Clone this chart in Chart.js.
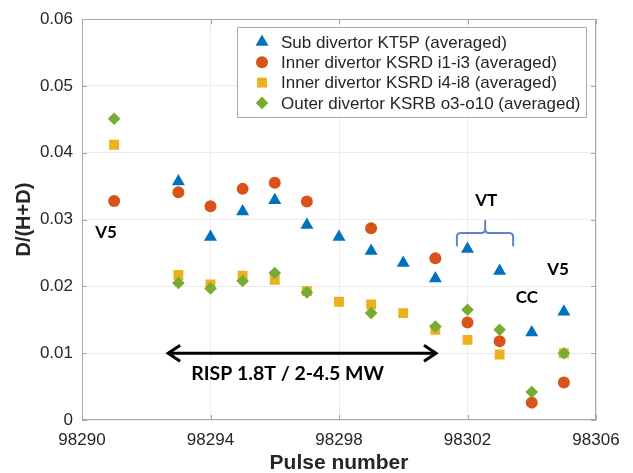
<!DOCTYPE html>
<html><head><meta charset="utf-8">
<script src="https://cdn.jsdelivr.net/npm/chart.js@4"></script>
<style>html,body{margin:0;padding:0;background:#fff;overflow:hidden}#wrap{width:633px;height:473px;position:relative}</style>
</head><body><div id="wrap"><canvas id="c" width="633" height="473"></canvas></div>
<script>
// ---- data ----
const xTickValues = [98290, 98294, 98298, 98302, 98306];
const yTickValues = [0, 0.01, 0.02, 0.03, 0.04, 0.05, 0.06];
const yTickLabels = ['0', '0.01', '0.02', '0.03', '0.04', '0.05', '0.06'];
const seriesNames = [
  'Sub divertor KT5P (averaged)',
  'Inner divertor KSRD i1-i3 (averaged)',
  'Inner divertor KSRD i4-i8 (averaged)',
  'Outer divertor KSRB o3-o10 (averaged)'
];
const subPulses   = [98293, 98294, 98295, 98296, 98297, 98298, 98299, 98300, 98301, 98302, 98303, 98304, 98305];
const subValues   = [0.0357, 0.0274, 0.0312, 0.0329, 0.0292, 0.0274, 0.0253, 0.0235, 0.0212, 0.0256, 0.0223, 0.0131, 0.0162];
const inner13Pulses = [98291, 98293, 98294, 98295, 98296, 98297, 98299, 98301, 98302, 98303, 98304, 98305];
const inner13Values = [0.0328, 0.0341, 0.0320, 0.0346, 0.0355, 0.0327, 0.0287, 0.0242, 0.0146, 0.0118, 0.0026, 0.0056];
const inner48Pulses = [98291, 98293, 98294, 98295, 98296, 98297, 98298, 98299, 98300, 98301, 98302, 98303, 98305];
const inner48Values = [0.0412, 0.0217, 0.0203, 0.0216, 0.0210, 0.0193, 0.0177, 0.0173, 0.0160, 0.0135, 0.0120, 0.0098, 0.0100];
const outerPulses = [98291, 98293, 98294, 98295, 98296, 98297, 98299, 98301, 98302, 98303, 98304, 98305];
const outerValues = [0.0451, 0.0205, 0.0197, 0.0208, 0.0220, 0.0191, 0.0160, 0.0140, 0.0165, 0.0135, 0.0042, 0.0100];

const colors = ['#0072BD', '#D95319', '#EDB120', '#77AC30'];
const styles = ['triangle', 'circle', 'rect', 'rectRot'];
const radii  = [7.5, 6, 7, 6.3];

function pts(xs, ys) { return xs.map((x, i) => ({x: x, y: ys[i]})); }
const seriesData = [
  pts(subPulses, subValues),
  pts(inner13Pulses, inner13Values),
  pts(inner48Pulses, inner48Values),
  pts(outerPulses, outerValues)
];

const AXIS = '#a8a8a8';
const TXT = '#262626';

function drawMarker(ctx, style, r, x, y) {
  ctx.beginPath();
  if (style === 'triangle') {
    for (let k = 0; k < 3; k++) {
      const a = k * 2 * Math.PI / 3;
      const px = x + Math.sin(a) * r, py = y - Math.cos(a) * r;
      k ? ctx.lineTo(px, py) : ctx.moveTo(px, py);
    }
    ctx.closePath();
  } else if (style === 'circle') {
    ctx.arc(x, y, r, 0, Math.PI * 2);
  } else if (style === 'rect') {
    const s = Math.SQRT1_2 * r;
    ctx.rect(x - s, y - s, 2 * s, 2 * s);
  } else {
    ctx.moveTo(x, y - r); ctx.lineTo(x + r, y); ctx.lineTo(x, y + r); ctx.lineTo(x - r, y); ctx.closePath();
  }
  ctx.fill();
}

const framePlugin = {
  id: 'frame',
  beforeDatasetsDraw(chart) {
    const {ctx, chartArea: a, scales} = chart;
    ctx.save();
    ctx.strokeStyle = AXIS; ctx.lineWidth = 1;
    ctx.strokeRect(Math.round(a.left) + 0.5, Math.round(a.top) + 0.5, Math.round(a.right - a.left) - 1, Math.round(a.bottom - a.top) - 1);
    ctx.beginPath();
    const L = 5;
    xTickValues.forEach(v => {
      const x = Math.round(scales.x.getPixelForValue(v)) + 0.5;
      ctx.moveTo(x, a.bottom); ctx.lineTo(x, a.bottom - L);
      ctx.moveTo(x, a.top); ctx.lineTo(x, a.top + L);
    });
    yTickValues.forEach(v => {
      const y = Math.round(scales.y.getPixelForValue(v)) + 0.5;
      ctx.moveTo(a.left, y); ctx.lineTo(a.left + L, y);
      ctx.moveTo(a.right, y); ctx.lineTo(a.right - L, y);
    });
    ctx.stroke();
    ctx.restore();
  }
};

const annotations = {
  arrow: {x: [98292.65, 98301.05], y: 0.01},
  texts: [
    {t: 'RISP 1.8T / 2-4.5 MW', x: 98296.4, y: 0.0070, size: 19.5},
    {t: 'V5', x: 98290.75, y: 0.0280, size: 17},
    {t: 'VT', x: 98302.58, y: 0.0329, size: 17},
    {t: 'V5', x: 98304.82, y: 0.0226, size: 17},
    {t: 'CC', x: 98303.85, y: 0.0183, size: 17}
  ],
  bracket: {x: [98301.67, 98302.55, 98303.42], y: [0.0260, 0.0280, 0.0299]}
};

const annotPlugin = {
  id: 'annot',
  afterDatasetsDraw(chart) {
    const {ctx, scales} = chart;
    const X = v => scales.x.getPixelForValue(v), Y = v => scales.y.getPixelForValue(v);
    ctx.save();
    // arrow
    const ay = Y(annotations.arrow.y), x1 = X(annotations.arrow.x[0]), x2 = X(annotations.arrow.x[1]);
    ctx.strokeStyle = '#000'; ctx.lineWidth = 3; ctx.lineJoin = 'miter'; ctx.lineCap = 'butt';
    ctx.beginPath(); ctx.moveTo(x1 + 1, ay); ctx.lineTo(x2 - 1, ay); ctx.stroke();
    ctx.beginPath();
    ctx.moveTo(x1 + 13, ay - 8); ctx.lineTo(x1 + 1, ay); ctx.lineTo(x1 + 13, ay + 8);
    ctx.moveTo(x2 - 13, ay - 8); ctx.lineTo(x2 - 1, ay); ctx.lineTo(x2 - 13, ay + 8);
    ctx.stroke();
    // bracket
    const b = annotations.bracket;
    const xl = X(b.x[0]), xc = X(b.x[1]), xr = X(b.x[2]);
    const yE = Y(b.y[0]), yB = Y(b.y[1]), yT = Y(b.y[2]);
    const r = 4;
    ctx.strokeStyle = '#5b87c5'; ctx.lineWidth = 2; ctx.lineJoin = 'round';
    ctx.beginPath();
    ctx.moveTo(xl, yE); ctx.lineTo(xl, yB + r); ctx.quadraticCurveTo(xl, yB, xl + r, yB);
    ctx.lineTo(xc - r, yB); ctx.quadraticCurveTo(xc, yB, xc, yB - r); ctx.lineTo(xc, yT);
    ctx.moveTo(xc, yB - r); ctx.quadraticCurveTo(xc, yB, xc + r, yB);
    ctx.lineTo(xr - r, yB); ctx.quadraticCurveTo(xr, yB, xr, yB + r); ctx.lineTo(xr, yE);
    ctx.stroke();
    // texts
    ctx.fillStyle = '#000'; ctx.textAlign = 'center'; ctx.textBaseline = 'middle';
    annotations.texts.forEach(o => { ctx.font = 'bold ' + o.size + 'px Lato'; ctx.fillText(o.t, X(o.x), Y(o.y)); });
    // legend
    const lx = 237.5, ly = 27.5, lw = 349, lh = 90;
    ctx.fillStyle = '#fff'; ctx.fillRect(lx, ly, lw, lh);
    ctx.strokeStyle = AXIS; ctx.lineWidth = 1; ctx.strokeRect(lx, ly, lw, lh);
    ctx.font = '17px "Liberation Sans"'; ctx.textAlign = 'left'; ctx.textBaseline = 'middle';
    seriesNames.forEach((name, i) => {
      const yy = 42 + i * 20.3;
      ctx.fillStyle = colors[i];
      drawMarker(ctx, styles[i], radii[i], 262, yy);
      ctx.fillStyle = TXT;
      ctx.fillText(name, 281, yy + 1);
    });
    ctx.restore();
  }
};

new Chart(document.getElementById('c'), {
  type: 'scatter',
  data: {
    datasets: seriesData.map((d, i) => ({
      label: seriesNames[i],
      data: d,
      pointStyle: styles[i],
      pointRadius: radii[i],
      pointHoverRadius: radii[i],
      backgroundColor: colors[i],
      borderColor: colors[i],
      pointBorderWidth: 0,
      order: 3 - i
    }))
  },
  options: {
    responsive: false,
    animation: false,
    devicePixelRatio: 1,
    layout: {padding: {top: 17, right: 37, left: 0, bottom: 0}},
    plugins: {legend: {display: false}, tooltip: {enabled: false}},
    scales: {
      x: {
        type: 'linear', min: 98290, max: 98306,
        afterBuildTicks: s => { s.ticks = xTickValues.map(v => ({value: v})); },
        afterFit: s => { s.height = 53; },
        ticks: {callback: v => String(v), font: {family: 'Liberation Sans', size: 17}, color: TXT, padding: 10, maxRotation: 0, autoSkip: false},
        grid: {color: '#ebebeb', drawTicks: false},
        border: {display: false},
        title: {display: true, text: 'Pulse number', color: TXT, font: {family: 'Liberation Sans', size: 21, weight: 'bold', lineHeight: '20px'}, padding: {top: 0, bottom: 0}}
      },
      y: {
        type: 'linear', min: 0, max: 0.06,
        afterBuildTicks: s => { s.ticks = yTickValues.map(v => ({value: v})); },
        afterFit: s => { s.width = 82; },
        ticks: {callback: (v, i) => yTickLabels[i], font: {family: 'Liberation Sans', size: 17}, color: TXT, padding: 9, autoSkip: false},
        grid: {color: '#ebebeb', drawTicks: false},
        border: {display: false},
        title: {display: true, text: 'D/(H+D)', color: TXT, font: {family: 'Liberation Sans', size: 20, weight: 'bold', lineHeight: '20px'}, padding: {top: 14, bottom: 0}}
      }
    }
  },
  plugins: [framePlugin, annotPlugin]
});
</script>
</body></html>
